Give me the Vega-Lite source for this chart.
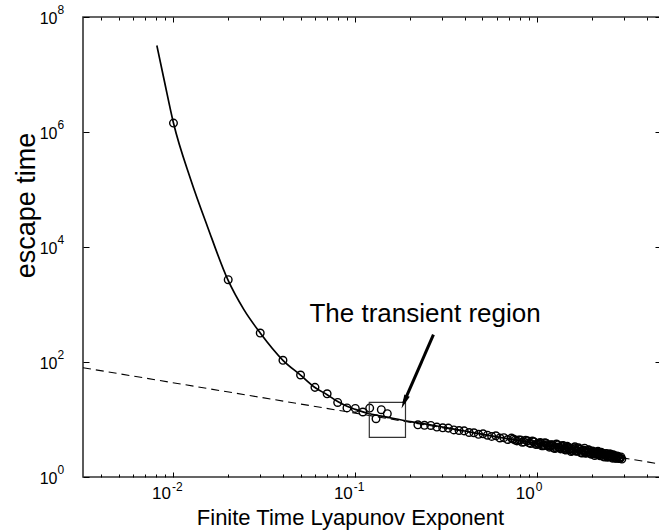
{
  "$schema": "https://vega.github.io/schema/vega-lite/v6.json",
  "width": 578,
  "height": 460,
  "autosize": {"type": "none"},
  "padding": {"left": 83, "top": 17, "right": 0, "bottom": 54},
  "background": "white",
  "config": {
    "view": {"stroke": "#333333", "strokeWidth": 1.6},
    "font": "Liberation Sans",
    "axis": {"grid": false, "domain": false, "labelColor": "black", "tickColor": "black", "titleColor": "black", "labelFont": "Liberation Sans", "titleFont": "Liberation Sans", "titleFontWeight": "normal", "labelOverlap": false, "labelFlush": false, "tickWidth": 1}
  },
  "datasets": {
    "powerlaw": [
      {"lyap": 0.00318, "tau": 79.6},
      {"lyap": 4.8, "tau": 1.67}
    ],
    "fit": [
      {"lyap": 0.0081, "tau": 32000000},
      {"lyap": 0.00888, "tau": 8100000},
      {"lyap": 0.01, "tau": 1430000},
      {"lyap": 0.01245, "tau": 148000},
      {"lyap": 0.01537, "tau": 22800},
      {"lyap": 0.0199, "tau": 2700},
      {"lyap": 0.0244, "tau": 813},
      {"lyap": 0.03, "tau": 319},
      {"lyap": 0.04, "tau": 107},
      {"lyap": 0.05, "tau": 59},
      {"lyap": 0.06, "tau": 36},
      {"lyap": 0.07, "tau": 27},
      {"lyap": 0.08, "tau": 20.5},
      {"lyap": 0.09, "tau": 17},
      {"lyap": 0.1, "tau": 15},
      {"lyap": 0.11, "tau": 13.6},
      {"lyap": 0.12, "tau": 12.6},
      {"lyap": 0.149, "tau": 11},
      {"lyap": 0.2, "tau": 9.2},
      {"lyap": 0.258, "tau": 8.1},
      {"lyap": 0.4, "tau": 6.3},
      {"lyap": 0.6, "tau": 5.0},
      {"lyap": 1.0, "tau": 3.8},
      {"lyap": 1.5, "tau": 3.1},
      {"lyap": 2.0, "tau": 2.65},
      {"lyap": 2.94, "tau": 2.15}
    ],
    "samples": [
      {"lyap": 0.01, "tau": 1430000},
      {"lyap": 0.02, "tau": 2700},
      {"lyap": 0.03, "tau": 319},
      {"lyap": 0.04, "tau": 107},
      {"lyap": 0.05, "tau": 59.4},
      {"lyap": 0.06, "tau": 36.2},
      {"lyap": 0.07, "tau": 28},
      {"lyap": 0.08, "tau": 19.8},
      {"lyap": 0.09, "tau": 15.9},
      {"lyap": 0.1, "tau": 15.6},
      {"lyap": 0.11, "tau": 13.5},
      {"lyap": 0.12, "tau": 15.8},
      {"lyap": 0.13, "tau": 10.3},
      {"lyap": 0.139, "tau": 14.8},
      {"lyap": 0.15, "tau": 12.6},
      {"lyap": 0.2209, "tau": 8.09},
      {"lyap": 0.2401, "tau": 7.93},
      {"lyap": 0.2601, "tau": 7.87},
      {"lyap": 0.2809, "tau": 7.38},
      {"lyap": 0.3025, "tau": 7.18},
      {"lyap": 0.3249, "tau": 7.08},
      {"lyap": 0.3481, "tau": 6.59},
      {"lyap": 0.3721, "tau": 6.44},
      {"lyap": 0.3969, "tau": 6.34},
      {"lyap": 0.4225, "tau": 5.94},
      {"lyap": 0.4489, "tau": 5.88},
      {"lyap": 0.4761, "tau": 5.52},
      {"lyap": 0.5041, "tau": 5.64},
      {"lyap": 0.5329, "tau": 5.33},
      {"lyap": 0.5625, "tau": 5.08},
      {"lyap": 0.5929, "tau": 5.21},
      {"lyap": 0.6241, "tau": 4.77},
      {"lyap": 0.6561, "tau": 4.83},
      {"lyap": 0.6889, "tau": 4.49},
      {"lyap": 0.7225, "tau": 4.75},
      {"lyap": 0.7396, "tau": 4.58},
      {"lyap": 0.7569, "tau": 4.38},
      {"lyap": 0.7744, "tau": 4.25},
      {"lyap": 0.7921, "tau": 4.42},
      {"lyap": 0.81, "tau": 4.42},
      {"lyap": 0.8281, "tau": 4.03},
      {"lyap": 0.8464, "tau": 4.08},
      {"lyap": 0.8649, "tau": 4.37},
      {"lyap": 0.8836, "tau": 4.27},
      {"lyap": 0.9025, "tau": 3.94},
      {"lyap": 0.9216, "tau": 3.83},
      {"lyap": 0.9409, "tau": 4.23},
      {"lyap": 0.9604, "tau": 4.1},
      {"lyap": 0.9801, "tau": 3.69},
      {"lyap": 1.0, "tau": 3.69},
      {"lyap": 1.01, "tau": 3.8},
      {"lyap": 1.0201, "tau": 3.87},
      {"lyap": 1.0404, "tau": 3.99},
      {"lyap": 1.0506, "tau": 3.81},
      {"lyap": 1.0609, "tau": 3.5},
      {"lyap": 1.0816, "tau": 3.5},
      {"lyap": 1.092, "tau": 3.56},
      {"lyap": 1.1025, "tau": 3.93},
      {"lyap": 1.1236, "tau": 3.85},
      {"lyap": 1.1342, "tau": 3.62},
      {"lyap": 1.1449, "tau": 3.48},
      {"lyap": 1.1664, "tau": 3.3},
      {"lyap": 1.1772, "tau": 3.46},
      {"lyap": 1.1881, "tau": 3.65},
      {"lyap": 1.21, "tau": 3.62},
      {"lyap": 1.221, "tau": 3.53},
      {"lyap": 1.2321, "tau": 3.19},
      {"lyap": 1.2544, "tau": 3.13},
      {"lyap": 1.2656, "tau": 3.28},
      {"lyap": 1.2769, "tau": 3.75},
      {"lyap": 1.2996, "tau": 3.61},
      {"lyap": 1.311, "tau": 3.31},
      {"lyap": 1.3225, "tau": 3.24},
      {"lyap": 1.3456, "tau": 3.08},
      {"lyap": 1.3572, "tau": 3.37},
      {"lyap": 1.3689, "tau": 3.49},
      {"lyap": 1.3924, "tau": 3.52},
      {"lyap": 1.4042, "tau": 3.13},
      {"lyap": 1.4161, "tau": 2.99},
      {"lyap": 1.44, "tau": 2.94},
      {"lyap": 1.452, "tau": 3.17},
      {"lyap": 1.4641, "tau": 3.41},
      {"lyap": 1.4884, "tau": 3.28},
      {"lyap": 1.5006, "tau": 2.98},
      {"lyap": 1.5129, "tau": 3.12},
      {"lyap": 1.5376, "tau": 2.78},
      {"lyap": 1.55, "tau": 3.1},
      {"lyap": 1.5625, "tau": 2.86},
      {"lyap": 1.5876, "tau": 3.21},
      {"lyap": 1.6002, "tau": 2.98},
      {"lyap": 1.6129, "tau": 3.35},
      {"lyap": 1.6384, "tau": 2.81},
      {"lyap": 1.6512, "tau": 2.86},
      {"lyap": 1.6641, "tau": 2.83},
      {"lyap": 1.69, "tau": 3.21},
      {"lyap": 1.703, "tau": 3.01},
      {"lyap": 1.7161, "tau": 3.06},
      {"lyap": 1.7424, "tau": 2.63},
      {"lyap": 1.7556, "tau": 2.81},
      {"lyap": 1.7689, "tau": 2.62},
      {"lyap": 1.7956, "tau": 2.94},
      {"lyap": 1.809, "tau": 2.85},
      {"lyap": 1.8225, "tau": 3.17},
      {"lyap": 1.8496, "tau": 2.58},
      {"lyap": 1.8632, "tau": 2.64},
      {"lyap": 1.8769, "tau": 2.72},
      {"lyap": 1.9044, "tau": 2.98},
      {"lyap": 1.9182, "tau": 2.77},
      {"lyap": 1.9321, "tau": 2.94},
      {"lyap": 1.96, "tau": 2.56},
      {"lyap": 1.974, "tau": 2.67},
      {"lyap": 1.9881, "tau": 2.49},
      {"lyap": 2.0164, "tau": 2.83},
      {"lyap": 2.0306, "tau": 2.56},
      {"lyap": 2.0449, "tau": 2.71},
      {"lyap": 2.0736, "tau": 2.37},
      {"lyap": 2.088, "tau": 2.68},
      {"lyap": 2.1025, "tau": 2.5},
      {"lyap": 2.1316, "tau": 2.71},
      {"lyap": 2.1462, "tau": 2.52},
      {"lyap": 2.1609, "tau": 2.79},
      {"lyap": 2.1904, "tau": 2.44},
      {"lyap": 2.2052, "tau": 2.55},
      {"lyap": 2.2201, "tau": 2.34},
      {"lyap": 2.25, "tau": 2.7},
      {"lyap": 2.265, "tau": 2.4},
      {"lyap": 2.2801, "tau": 2.58},
      {"lyap": 2.3104, "tau": 2.29},
      {"lyap": 2.3256, "tau": 2.52},
      {"lyap": 2.3409, "tau": 2.22},
      {"lyap": 2.3716, "tau": 2.54},
      {"lyap": 2.387, "tau": 2.41},
      {"lyap": 2.4025, "tau": 2.57},
      {"lyap": 2.4336, "tau": 2.2},
      {"lyap": 2.4492, "tau": 2.33},
      {"lyap": 2.4649, "tau": 2.26},
      {"lyap": 2.4964, "tau": 2.52},
      {"lyap": 2.5122, "tau": 2.4},
      {"lyap": 2.5281, "tau": 2.51},
      {"lyap": 2.56, "tau": 2.22},
      {"lyap": 2.576, "tau": 2.29},
      {"lyap": 2.5921, "tau": 2.13},
      {"lyap": 2.6244, "tau": 2.43},
      {"lyap": 2.6406, "tau": 2.33},
      {"lyap": 2.6569, "tau": 2.36},
      {"lyap": 2.6896, "tau": 2.11},
      {"lyap": 2.706, "tau": 2.21},
      {"lyap": 2.7225, "tau": 2.12},
      {"lyap": 2.7556, "tau": 2.31},
      {"lyap": 2.7722, "tau": 2.26},
      {"lyap": 2.7889, "tau": 2.27},
      {"lyap": 2.8224, "tau": 2.09},
      {"lyap": 2.8392, "tau": 2.16},
      {"lyap": 2.8561, "tau": 2.1},
      {"lyap": 2.89, "tau": 2.23},
      {"lyap": 2.9241, "tau": 2.05}
    ],
    "box": [
      {"x1": 0.1194, "x2": 0.1888, "y1": 4.88, "y2": 19.8}
    ],
    "arrow": [
      {"x1": 0.269, "y1": 298.5, "x2": 0.1843, "y2": 19.2, "tipx": 0.1795, "tipy": 15.5}
    ],
    "note": [
      {"lyap": 0.242, "tau": 488, "label": "The transient region"}
    ]
  },
  "resolve": {"axis": {"x": "independent", "y": "independent"}},
  "layer": [
    {
      "data": {"name": "powerlaw"},
      "mark": {"type": "line", "color": "black", "strokeWidth": 1.1, "strokeDash": [8, 5]},
      "encoding": {
        "x": {"field": "lyap", "type": "quantitative", "scale": {"type": "log", "domain": [0.00318, 4.8], "nice": false},
          "axis": {"orient": "bottom", "values": [0.01, 0.1, 1], "labelExpr": "'10'", "ticks": false, "labelFontSize": 17, "labelAlign": "right", "labelOffset": -3, "labelPadding": 8, "labelBaseline": "top",
            "title": "Finite Time Lyapunov Exponent", "titleFontSize": 22, "titleX": 267, "titleY": 47, "titleAlign": "center", "titleBaseline": "alphabetic"}},
        "y": {"field": "tau", "type": "quantitative", "scale": {"type": "log", "domain": [1, 100000000], "nice": false},
          "axis": {"orient": "left", "values": [1, 100, 10000, 1000000, 100000000], "labelExpr": "'10'", "ticks": false, "labelFontSize": 16, "labelAlign": "right", "labelBaseline": "middle", "labelPadding": 26, "labelOffset": 1,
            "title": "escape time", "titleFontSize": 27, "titleX": -57, "titleY": 188, "titleAngle": -90, "titleAlign": "center", "titleBaseline": "middle"}}
      }
    },
    {
      "data": {"name": "fit"},
      "mark": {"type": "line", "color": "black", "strokeWidth": 1.7, "interpolate": "monotone"},
      "encoding": {
        "x": {"field": "lyap", "type": "quantitative", "scale": {"type": "log", "domain": [0.00318, 4.8], "nice": false},
          "axis": {"orient": "bottom", "values": [0.01, 0.1, 1], "labelExpr": "datum.value < 0.05 ? '-2' : datum.value < 0.5 ? '-1' : '0'", "ticks": false, "labelFontSize": 12, "labelAlign": "left", "labelOffset": -2, "labelPadding": 4, "labelBaseline": "top", "title": null}},
        "y": {"field": "tau", "type": "quantitative", "scale": {"type": "log", "domain": [1, 100000000], "nice": false},
          "axis": {"orient": "left", "values": [1, 100, 10000, 1000000, 100000000], "labelExpr": "datum.value < 10 ? '0' : datum.value < 1000 ? '2' : datum.value < 100000 ? '4' : datum.value < 10000000 ? '6' : '8'", "ticks": false, "labelFontSize": 12, "labelAlign": "left", "labelBaseline": "middle", "labelPadding": 26, "labelOffset": -8, "title": null}}
      }
    },
    {
      "data": {"name": "samples"},
      "mark": {"type": "point", "shape": "circle", "filled": false, "color": "black", "size": 58, "strokeWidth": 1.4, "opacity": 1},
      "encoding": {
        "x": {"field": "lyap", "type": "quantitative", "scale": {"type": "log", "domain": [0.00318, 4.8], "nice": false},
          "axis": {"orient": "bottom", "values": [0.004, 0.005, 0.006, 0.007, 0.008, 0.009, 0.02, 0.03, 0.04, 0.05, 0.06, 0.07, 0.08, 0.09, 0.2, 0.3, 0.4, 0.5, 0.6, 0.7, 0.8, 0.9, 2, 3, 4], "labels": false, "tickSize": 3, "offset": -3, "title": null}},
        "y": {"field": "tau", "type": "quantitative", "scale": {"type": "log", "domain": [1, 100000000], "nice": false},
          "axis": {"orient": "left", "values": [1, 100, 10000, 1000000, 100000000], "labels": false, "tickSize": 6, "offset": -6, "title": null}}
      }
    },
    {
      "data": {"name": "box"},
      "mark": {"type": "rect", "filled": false, "stroke": "#333", "strokeWidth": 1.2, "fill": null},
      "encoding": {
        "x": {"field": "x1", "type": "quantitative", "scale": {"type": "log", "domain": [0.00318, 4.8], "nice": false},
          "axis": {"orient": "bottom", "values": [0.01, 0.1, 1], "labels": false, "tickSize": 5, "offset": -5, "title": null}},
        "x2": {"field": "x2"},
        "y": {"field": "y1", "type": "quantitative", "scale": {"type": "log", "domain": [1, 100000000], "nice": false},
          "axis": {"orient": "right", "values": [1, 100, 10000, 1000000, 100000000], "labels": false, "tickSize": 6, "offset": -6, "title": null}},
        "y2": {"field": "y2"}
      }
    },
    {
      "data": {"name": "arrow"},
      "mark": {"type": "rule", "color": "black", "strokeWidth": 3},
      "encoding": {
        "x": {"field": "x1", "type": "quantitative", "scale": {"type": "log", "domain": [0.00318, 4.8], "nice": false},
          "axis": {"orient": "top", "values": [0.004, 0.005, 0.006, 0.007, 0.008, 0.009, 0.02, 0.03, 0.04, 0.05, 0.06, 0.07, 0.08, 0.09, 0.2, 0.3, 0.4, 0.5, 0.6, 0.7, 0.8, 0.9, 2, 3, 4], "labels": false, "tickSize": 3, "offset": -3, "title": null}},
        "x2": {"field": "x2"},
        "y": {"field": "y1", "type": "quantitative", "scale": {"type": "log", "domain": [1, 100000000], "nice": false}, "axis": null},
        "y2": {"field": "y2"}
      }
    },
    {
      "data": {"name": "arrow"},
      "mark": {"type": "point", "shape": "M0,0L0.42,2L-0.42,2Z", "filled": true, "color": "black", "size": 196, "angle": 203.3, "opacity": 1, "strokeWidth": 0},
      "encoding": {
        "x": {"field": "tipx", "type": "quantitative", "scale": {"type": "log", "domain": [0.00318, 4.8], "nice": false},
          "axis": {"orient": "top", "values": [0.01, 0.1, 1], "labels": false, "tickSize": 5, "offset": -5, "title": null}},
        "y": {"field": "tipy", "type": "quantitative", "scale": {"type": "log", "domain": [1, 100000000], "nice": false}, "axis": null}
      }
    },
    {
      "data": {"name": "note"},
      "mark": {"type": "text", "font": "Liberation Sans", "fontSize": 26, "align": "center", "baseline": "alphabetic", "color": "black"},
      "encoding": {
        "x": {"field": "lyap", "type": "quantitative", "scale": {"type": "log", "domain": [0.00318, 4.8], "nice": false}, "axis": null},
        "y": {"field": "tau", "type": "quantitative", "scale": {"type": "log", "domain": [1, 100000000], "nice": false}, "axis": null},
        "text": {"field": "label"}
      }
    }
  ]
}
